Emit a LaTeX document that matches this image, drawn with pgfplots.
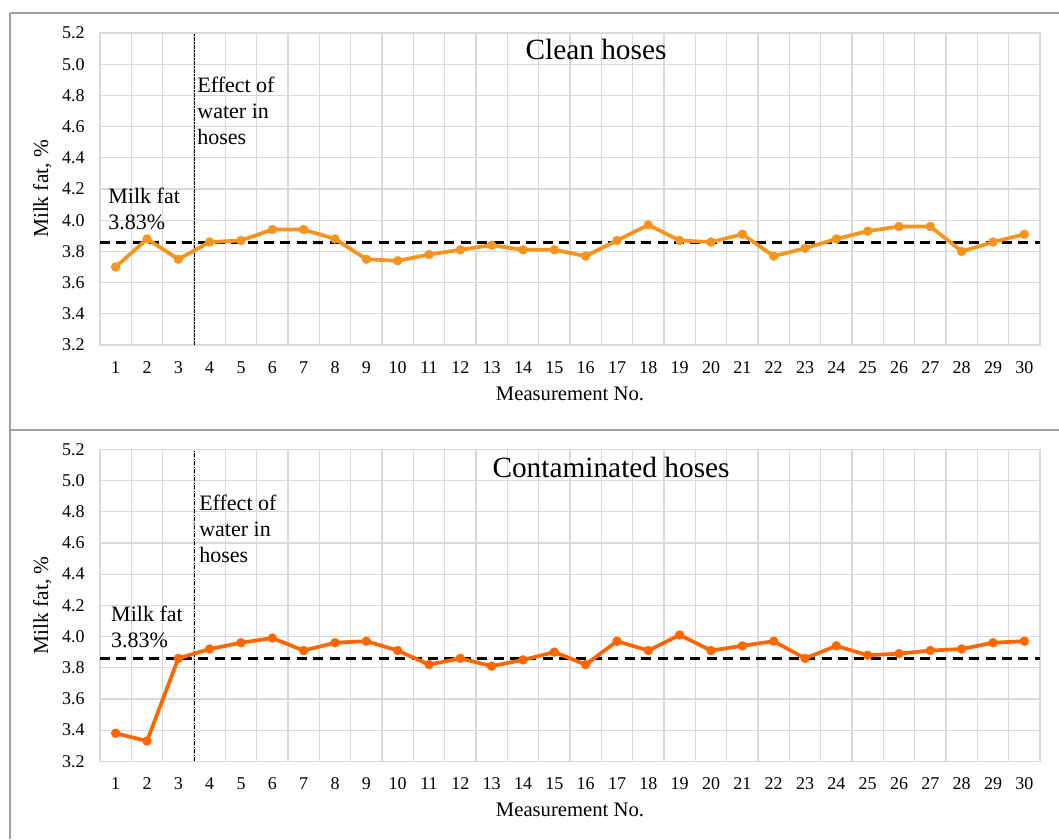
\documentclass[border=0pt]{standalone}
\usepackage{fontspec}
\setmainfont{Liberation Serif}
\usepackage{pgfplots}
\pgfplotsset{compat=1.18}

\definecolor{orangeA}{RGB}{247,148,30}
\definecolor{orangeB}{RGB}{255,102,0}
\definecolor{gridc}{RGB}{217,217,217}
\definecolor{framec}{RGB}{160,160,160}

\def\u{0.75pt}

\pgfplotsset{milk/.style={
  scale only axis, width=705pt, height=234pt,
  xmin=0.5, xmax=30.5, ymin=3.2, ymax=5.2,
  xtick={1,...,30}, minor xtick={0.5,1.5,...,30.5},
  ytick={3.2,3.4,3.6,3.8,4.0,4.2,4.4,4.6,4.8,5.0,5.2},
  ymajorgrids, xminorgrids,
  major grid style={gridc, line width=0.9pt},
  minor grid style={gridc, line width=0.9pt},
  axis line style={gridc, line width=0.9pt},
  major tick length=0pt, minor tick length=0pt,
  tick label style={font=\fontsize{13.5}{16}\selectfont},
  /pgf/number format/assume math mode=true,
  yticklabel style={/pgf/number format/fixed, /pgf/number format/precision=1, /pgf/number format/fixed zerofill, inner sep=0pt, xshift=-11.25pt},
  xticklabel style={inner sep=0pt, yshift=-12pt},
  xlabel={Measurement No.},
  ylabel={Milk fat, \%},
  xlabel style={at={(axis description cs:0.5,-0.1763)}, anchor=base, font=\fontsize{15.5}{18}\selectfont},
  ylabel style={at={(axis description cs:-0.0553,0.5)}, anchor=base, font=\fontsize{16}{18}\selectfont},
  clip=false,
}}

\begin{document}
\begin{tikzpicture}
\useasboundingbox (0,0) rectangle ({1059*\u},{-839*\u});
% frame
\draw[framec, line width=1.2pt] ({10*\u},{-13*\u}) -- ({1059*\u},{-13*\u});
\draw[framec, line width=1.2pt] ({10*\u},{-13*\u}) -- ({10*\u},{-839*\u});
\draw[framec, line width=1.2pt] ({10*\u},{-430*\u}) -- ({1059*\u},{-430*\u});

% top chart
\begin{axis}[milk, at={({100*\u},{-33*\u})}, anchor=north west]
\addplot[black, line width=0.7pt, dash pattern=on 3pt off 1pt on 1pt off 1pt] coordinates {(3.5,3.2) (3.5,5.2)};
\addplot[black, line width=2.25pt, dash pattern=on 7.5pt off 4.8pt] coordinates {(0.5,3.86) (30.5,3.86)};
\addplot[orangeA, line width=2.8pt, mark=*, mark size=3.3pt, mark options={solid, fill=orangeA, draw=orangeA, line width=0.4pt}] coordinates {
(1,3.70) (2,3.88) (3,3.75) (4,3.86) (5,3.87) (6,3.94) (7,3.94) (8,3.88) (9,3.75) (10,3.74)
(11,3.78) (12,3.81) (13,3.84) (14,3.81) (15,3.81) (16,3.77) (17,3.87) (18,3.97) (19,3.87) (20,3.86)
(21,3.91) (22,3.77) (23,3.82) (24,3.88) (25,3.93) (26,3.96) (27,3.96) (28,3.80) (29,3.86) (30,3.91)};
\node[anchor=base, inner sep=0pt, font=\fontsize{22}{26}\selectfont] at (axis cs:16.33,5.03) {Clean hoses};
\node[anchor=north west, inner sep=0pt, align=left, font=\fontsize{16.5}{19.5}\selectfont] at (axis cs:3.60,4.92) {Effect of\\water in\\hoses};
\node[anchor=north west, inner sep=0pt, align=left, font=\fontsize{16.5}{19.5}\selectfont] at (axis cs:0.76,4.21) {Milk fat\\3.83\%};
\end{axis}

% bottom chart
\begin{axis}[milk, at={({100*\u},{-449.3*\u})}, anchor=north west]
\addplot[black, line width=0.7pt, dash pattern=on 3pt off 1pt on 1pt off 1pt] coordinates {(3.5,3.2) (3.5,5.2)};
\addplot[black, line width=2.25pt, dash pattern=on 7.5pt off 4.8pt] coordinates {(0.5,3.86) (30.5,3.86)};
\addplot[orangeB, line width=2.8pt, mark=*, mark size=3.3pt, mark options={solid, fill=orangeB, draw=orangeB, line width=0.4pt}] coordinates {
(1,3.38) (2,3.33) (3,3.86) (4,3.92) (5,3.96) (6,3.99) (7,3.91) (8,3.96) (9,3.97) (10,3.91)
(11,3.82) (12,3.86) (13,3.81) (14,3.85) (15,3.90) (16,3.82) (17,3.97) (18,3.91) (19,4.01) (20,3.91)
(21,3.94) (22,3.97) (23,3.86) (24,3.94) (25,3.88) (26,3.89) (27,3.91) (28,3.92) (29,3.96) (30,3.97)};
\node[anchor=base, inner sep=0pt, font=\fontsize{22}{26}\selectfont] at (axis cs:16.81,5.02) {Contaminated hoses};
\node[anchor=north west, inner sep=0pt, align=left, font=\fontsize{16.5}{19.5}\selectfont] at (axis cs:3.66,4.91) {Effect of\\water in\\hoses};
\node[anchor=north west, inner sep=0pt, align=left, font=\fontsize{16.5}{19.5}\selectfont] at (axis cs:0.85,4.20) {Milk fat\\3.83\%};
\end{axis}
\end{tikzpicture}
\end{document}
